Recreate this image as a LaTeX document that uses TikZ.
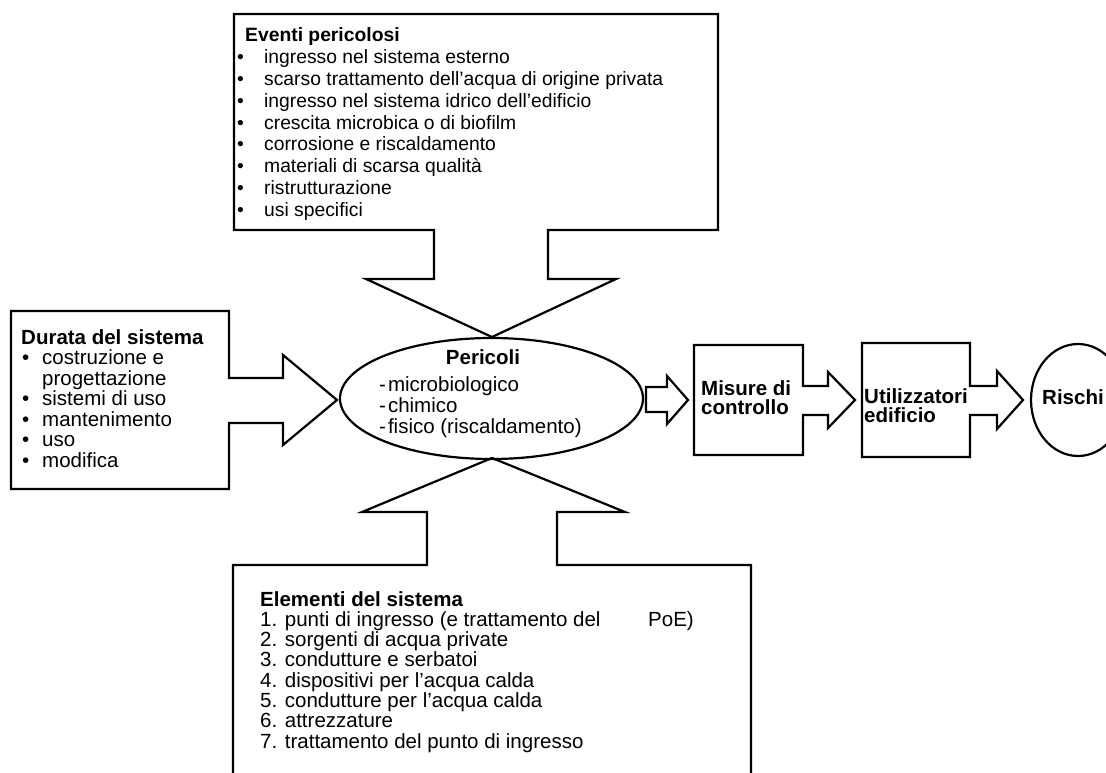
\documentclass[tikz,border=0pt]{standalone}
\usepackage{fontspec}
\setmainfont{Liberation Sans}
\usetikzlibrary{shapes.geometric}
\begin{document}
\begin{tikzpicture}[x=1pt,y=-1pt,
  outline/.style={line width=2.2pt, line join=miter, draw=black},
  bodytop/.style={anchor=base west, inner sep=0pt, font=\fontsize{19.3}{19.3}\selectfont},
  body/.style={anchor=base west, inner sep=0pt, font=\fontsize{20.5}{20.5}\selectfont},
  titletop/.style={anchor=base west, inner sep=0pt, font=\fontsize{19.3}{19.3}\selectfont\bfseries},
  title/.style={anchor=base west, inner sep=0pt, font=\fontsize{20.5}{20.5}\selectfont\bfseries},
  oval/.style={ellipse, outline, inner sep=0pt}]
\useasboundingbox (0,0) rectangle (1106,773);
\fill[white] (0,0) rectangle (1106,773);
\clip (0,0) rectangle (1106,773);

% top box with arrow down
\draw[outline] (434,279) -- (434,230) -- (234,230) -- (234,14) -- (718,14) -- (718,230)
  -- (548,230) -- (548,279) -- (616,279) -- (492,337) -- (366,279) -- cycle;
\node[titletop] (evt) at (245,42) {Eventi pericolosi};
\foreach \t [count=\i] in {ingresso nel sistema esterno,
  scarso trattamento dell’acqua di origine privata,
  ingresso nel sistema idrico dell’edificio,
  crescita microbica o di biofilm,
  corrosione e riscaldamento,
  materiali di scarsa qualità,
  ristrutturazione,
  usi specifici}
  \node[bodytop] (ev\i) at (264,{42+21.8*\i}) {\llap{\makebox[27pt][l]{•}}\t};

% left box with arrow right
\draw[outline] (229,378) -- (229,311) -- (11,311) -- (11,489) -- (229,489) -- (229,423)
  -- (283,423) -- (283,445) -- (337,400) -- (283,355) -- (283,378) -- cycle;
\node[title] (dur) at (21,344) {Durata del sistema};
\node[body] (du1) at (42,364.5) {\llap{\makebox[20pt][l]{•}}costruzione e};
\node[body] (du1b) at (42,385) {progettazione};
\node[body] (du2) at (42,405.5) {\llap{\makebox[20pt][l]{•}}sistemi di uso};
\node[body] (du3) at (42,426) {\llap{\makebox[20pt][l]{•}}mantenimento};
\node[body] (du4) at (42,446.5) {\llap{\makebox[20pt][l]{•}}uso};
\node[body] (du5) at (42,467) {\llap{\makebox[20pt][l]{•}}modifica};

% central ellipse
\node[oval, minimum width=303pt, minimum height=121pt] (per) at (491.5,398.5) {};
\node[anchor=base, inner sep=0pt, font=\fontsize{20.5}{20.5}\selectfont\bfseries] (pert) at (483,364) {Pericoli};
\node[body] (pe1) at (379,391) {-\hspace{2pt}microbiologico};
\node[body] (pe2) at (379,412) {-\hspace{2pt}chimico};
\node[body] (pe3) at (379,433) {-\hspace{2pt}fisico (riscaldamento)};

% arrow ellipse -> misure
\draw[outline] (646,387) -- (667,387) -- (667,376) -- (688,400) -- (667,424) -- (667,412) -- (646,412) -- cycle;

% misure box with arrow
\draw[outline] (803,386) -- (803,345) -- (694,345) -- (694,455) -- (803,455) -- (803,415)
  -- (828,415) -- (828,428) -- (855,400) -- (828,372) -- (828,386) -- cycle;
\node[title] (mis1) at (701,395) {Misure di};
\node[title] (mis2) at (701,414) {controllo};

% utilizzatori box with arrow
\draw[outline] (970,386) -- (970,343) -- (862,343) -- (862,457) -- (970,457) -- (970,415)
  -- (997,415) -- (997,429) -- (1023,400) -- (997,371) -- (997,386) -- cycle;
\node[title] (ut1) at (864,403) {Utilizzatori};
\node[title] (ut2) at (864,422) {edificio};

% rischi
\node[oval, minimum width=94pt, minimum height=112pt] (ris) at (1078,400) {};
\node[title] (rist) at (1042,404) {Rischi};

% bottom box with arrow up
\draw[outline] (427,512) -- (427,565) -- (233,565) -- (233,800) -- (751,800) -- (751,565)
  -- (557,565) -- (557,512) -- (625,512) -- (492,458) -- (362,512) -- cycle;
\node[title] (elt) at (260,606) {Elementi del sistema};
\foreach \t [count=\i] in {1. punti di ingresso (e trattamento del,
  2. sorgenti di acqua private,
  3. condutture e serbatoi,
  4. dispositivi per l’acqua calda,
  5. condutture per l’acqua calda,
  6. attrezzature,
  7. trattamento del punto di ingresso}
  \node[body] (el\i) at (260,{606+20.3*\i}) {\t};
\node[body] (poe) at (648,626.3) {PoE)};
\end{tikzpicture}
\end{document}
